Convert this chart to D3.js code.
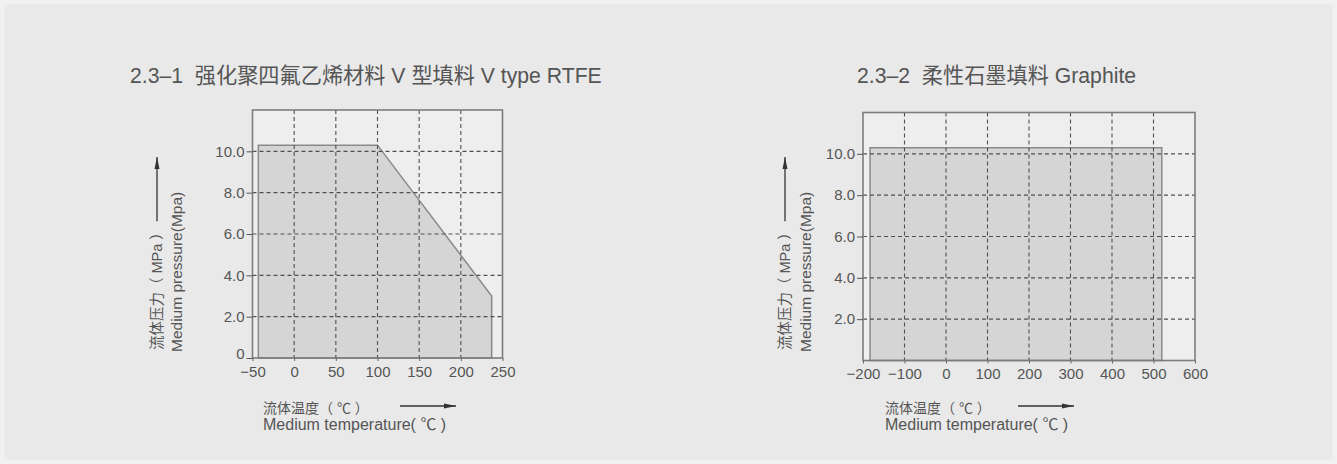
<!DOCTYPE html>
<html>
<head>
<meta charset="utf-8">
<script src="https://cdn.jsdelivr.net/npm/d3@7"></script>
<style>
  html, body { margin: 0; padding: 0; background: #e9e9e9; }
  svg { display: block; }
  text { font-family: "Liberation Sans", Arial, "Noto Sans CJK SC", sans-serif; fill: #555; }
</style>
</head>
<body>
<svg id="chart" width="1337" height="464"></svg>
<script>
// ---- data ----
const rtfeTitle = "2.3–1  强化聚四氟乙烯材料 V 型填料 V type RTFE";
const graphiteTitle = "2.3–2  柔性石墨填料 Graphite";
const rtfeXTicks = [-50, 0, 50, 100, 150, 200, 250];
const rtfeYTicks = [0, 2, 4, 6, 8, 10];
const graphiteXTicks = [-200, -100, 0, 100, 200, 300, 400, 500, 600];
const graphiteYTicks = [2, 4, 6, 8, 10];
const rtfeTemp = [-43, -43, 100, 237, 237];
const rtfePressure = [0, 10.3, 10.3, 3.0, 0];
const graphiteTemp = [-183, -183, 520, 520];
const graphitePressure = [0, 10.3, 10.3, 0];
const yTitleCn = "流体压力（ MPa ）";
const yTitleEn = "Medium pressure(Mpa)";
const xTitleCn = "流体温度（ ℃ ）";
const xTitleEn = "Medium temperature( ℃ )";

const svg = d3.select("#chart");
svg.append("rect").attr("x", 2).attr("y", 2).attr("width", 1333).attr("height", 460)
  .attr("fill", "#e9e9e9").attr("stroke", "#f1f1f1").attr("stroke-width", 5);

const defs = svg.append("defs");
defs.append("marker").attr("id", "arr").attr("viewBox", "0 0 12 6")
  .attr("refX", 12).attr("refY", 3).attr("markerWidth", 12).attr("markerHeight", 6)
  .attr("markerUnits", "userSpaceOnUse").attr("orient", "auto")
  .append("path").attr("d", "M0,0.5 L12,3 L0,5.5 Z").attr("fill", "#333");

function drawChart(cfg) {
  const g = svg.append("g");
  const x = d3.scaleLinear().domain(cfg.xDomain).range(cfg.xRange);
  const y = d3.scaleLinear().domain([0, 12]).range(cfg.yRange);
  const [x0, x1] = cfg.xRange, [yb, yt] = cfg.yRange;

  // plot background
  g.append("rect").attr("x", x0).attr("y", yt).attr("width", x1 - x0).attr("height", yb - yt)
    .attr("fill", "#eeeeee");

  // area
  const pts = cfg.temp.map((t, i) => [t, cfg.pres[i]]);
  g.append("path").datum(pts)
    .attr("d", d3.line().x(d => x(d[0])).y(d => y(d[1])).curve(d3.curveLinearClosed))
    .attr("fill", "#d5d5d5").attr("stroke", "#8a8a8a").attr("stroke-width", 1.5);

  // grid
  const grid = g.append("g").attr("stroke", "#505050").attr("stroke-width", 1.1)
    .attr("stroke-dasharray", "4,3");
  grid.selectAll(".vg").data(cfg.xTicks.slice(1, -1)).join("line")
    .attr("x1", d => x(d)).attr("x2", d => x(d)).attr("y1", yt).attr("y2", yb);
  grid.selectAll(".hg").data(cfg.yTicks.filter(v => v > 0)).join("line")
    .attr("x1", x0).attr("x2", x1).attr("y1", d => y(d)).attr("y2", d => y(d));

  // frame
  g.append("rect").attr("x", x0).attr("y", yt).attr("width", x1 - x0).attr("height", yb - yt)
    .attr("fill", "none").attr("stroke", "#7d7d7d").attr("stroke-width", 1.6);

  // axes
  const xa = g.append("g").attr("transform", `translate(0,${yb})`)
    .call(d3.axisBottom(x).tickValues(cfg.xTicks).tickSize(3).tickPadding(5).tickFormat(d3.format("d")));
  xa.select(".domain").remove();
  xa.selectAll("line").attr("stroke", "#666");
  xa.selectAll("text").attr("font-size", 15).attr("fill", "#555").style("font-family", "Liberation Sans, Arial, sans-serif");

  const ya = g.append("g").attr("transform", `translate(${x0},0)`)
    .call(d3.axisLeft(y).tickValues(cfg.yTicks).tickSize(6).tickPadding(2)
      .tickFormat(d => d === 0 ? "0" : d3.format(".1f")(d)));
  ya.select(".domain").remove();
  ya.selectAll("line").attr("stroke", "#555");
  ya.selectAll("text").attr("font-size", 15).attr("fill", "#555").style("font-family", "Liberation Sans, Arial, sans-serif");
  ya.selectAll(".tick").filter(d => d === 0).select("text").attr("dy", "0.05em");

  // title
  svg.append("text").attr("x", cfg.titleX).attr("y", 83).attr("font-size", 21.2).attr("fill", "#4a4a4a")
    .style("white-space", "pre").attr("xml:space", "preserve")
    .text(cfg.title);

  // y title
  const c1 = cfg.yTitleX[0], c2 = cfg.yTitleX[1];
  const t1 = svg.append("text").attr("transform", `translate(${c1},350) rotate(-90)`)
    .attr("dominant-baseline", "central").attr("font-size", 14.5).attr("fill", "#4a4a4a").text(yTitleCn);
  const l1 = t1.node().getComputedTextLength();
  svg.append("line").attr("x1", c1).attr("x2", c1).attr("y1", 350 - l1 - 4).attr("y2", 157)
    .attr("stroke", "#333").attr("stroke-width", 1.3).attr("marker-end", "url(#arr)");
  svg.append("text").attr("transform", `translate(${c2},352) rotate(-90)`)
    .attr("dominant-baseline", "central").attr("font-size", 15.5).text(yTitleEn);

  // x title
  svg.append("text").attr("x", cfg.xTitleX).attr("y", 413).attr("font-size", 14).attr("fill", "#4a4a4a").text(xTitleCn);
  svg.append("line").attr("x1", cfg.arrowX[0]).attr("x2", cfg.arrowX[1]).attr("y1", 406).attr("y2", 406)
    .attr("stroke", "#333").attr("stroke-width", 1.3).attr("marker-end", "url(#arr)");
  svg.append("text").attr("x", cfg.xTitleX).attr("y", 430).attr("font-size", 16).text(xTitleEn);
}

drawChart({
  title: rtfeTitle, titleX: 130,
  xDomain: [-50, 250], xRange: [252.5, 502.5], yRange: [358, 110],
  xTicks: rtfeXTicks, yTicks: rtfeYTicks, temp: rtfeTemp, pres: rtfePressure,
  yTitleX: [157, 176], xTitleX: 263, arrowX: [400, 456]
});
drawChart({
  title: graphiteTitle, titleX: 857,
  xDomain: [-200, 600], xRange: [863, 1195], yRange: [360.5, 112.5],
  xTicks: graphiteXTicks, yTicks: graphiteYTicks, temp: graphiteTemp, pres: graphitePressure,
  yTitleX: [785, 805], xTitleX: 885, arrowX: [1018, 1074]
});
</script>
</body>
</html>
